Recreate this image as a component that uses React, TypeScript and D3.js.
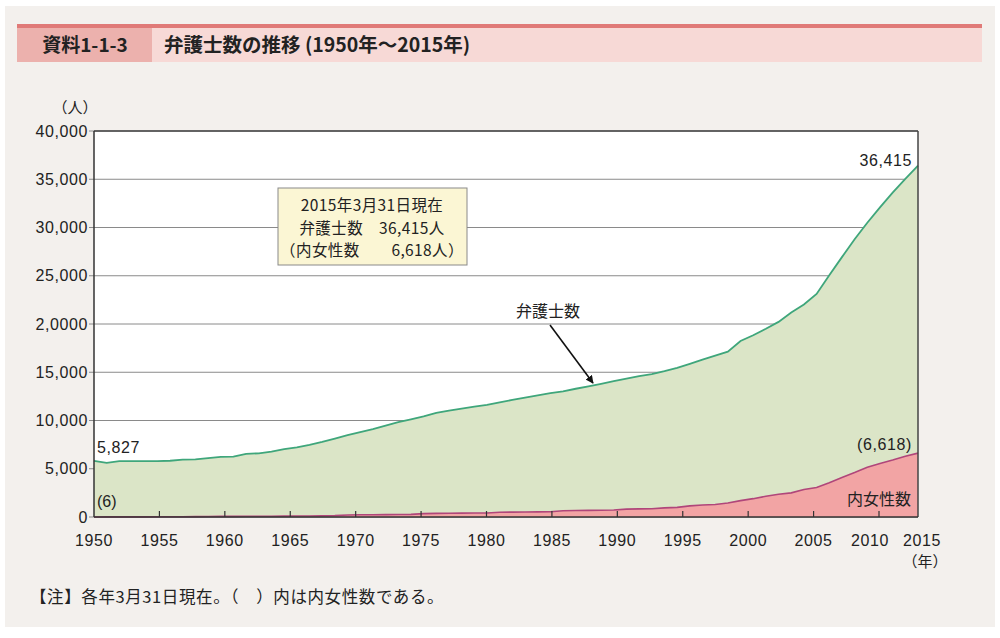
import * as d3 from "d3";

// 弁護士数の推移 (1950-2015), 各年3月31日現在
const years = [
  1950, 1951, 1952, 1953, 1954, 1955, 1956, 1957, 1958, 1959,
  1960, 1961, 1962, 1963, 1964, 1965, 1966, 1967, 1968, 1969,
  1970, 1971, 1972, 1973, 1974, 1975, 1976, 1977, 1978, 1979,
  1980, 1981, 1982, 1983, 1984, 1985, 1986, 1987, 1988, 1989,
  1990, 1991, 1992, 1993, 1994, 1995, 1996, 1997, 1998, 1999,
  2000, 2001, 2002, 2003, 2004, 2005, 2006, 2007, 2008, 2009,
  2010, 2011, 2012, 2013, 2014, 2015,
];

const lawyers = [
  5827, 5600, 5780, 5800, 5800, 5800, 5830, 5950, 5970, 6100,
  6240, 6260, 6550, 6600, 6780, 7040, 7220, 7470, 7780, 8130,
  8480, 8800, 9110, 9480, 9830, 10120, 10430, 10790, 11030, 11240,
  11440, 11620, 11890, 12130, 12380, 12600, 12830, 13010, 13290, 13540,
  13800, 14080, 14330, 14600, 14810, 15110, 15460, 15870, 16310, 16730,
  17130, 18240, 18840, 19510, 20220, 21190, 22020, 23120, 25040, 26930,
  28790, 30490, 32090, 33620, 35050, 36415,
];

const women = [
  6, 10, 12, 15, 18, 20, 25, 30, 40, 50,
  60, 65, 70, 75, 80, 90, 100, 110, 120, 140,
  210, 230, 240, 250, 260, 270, 350, 380, 390, 400,
  410, 420, 500, 510, 520, 530, 540, 650, 680, 690,
  700, 720, 820, 840, 860, 950, 1000, 1150, 1250, 1300,
  1450, 1700, 1900, 2150, 2350, 2500, 2850, 3050, 3550, 4100,
  4600, 5150, 5550, 5900, 6300, 6618,
];

const yTicks = [0, 5000, 10000, 15000, 20000, 25000, 30000, 35000, 40000];
const yTickLabels = ["0", "5,000", "10,000", "15,000", "2,0000", "25,000", "30,000", "35,000", "40,000"];
const xTicks = [1950, 1955, 1960, 1965, 1970, 1975, 1980, 1985, 1990, 1995, 2000, 2005, 2010, 2015];

const infoLines = ["2015年3月31日現在", "弁護士数　36,415人", "（内女性数　　6,618人）"];

const numFont = "'Liberation Sans', Arial, sans-serif";
const jpFont = "'Noto Sans CJK JP', 'Noto Sans', sans-serif";

const left = 94, right = 918, top = 131, bottom = 517;

export default function App() {
  const x = d3.scaleLinear().domain([1950, 2015]).range([left, right]);
  // tick labels sit on their own spacing, 2015 squeezed onto the right edge
  const xTick = d3.scaleLinear().domain([1950, 2010, 2015]).range([left, 879, right]);
  const y = d3.scaleLinear().domain([0, 40000]).range([bottom, top]);

  const rows = years.map((yr, i) => ({ yr, total: lawyers[i], women: women[i] }));

  const totalArea = d3.area<typeof rows[0]>().x(d => x(d.yr)).y0(y(0)).y1(d => y(d.total));
  const totalLine = d3.line<typeof rows[0]>().x(d => x(d.yr)).y(d => y(d.total));
  const womenArea = d3.area<typeof rows[0]>().x(d => x(d.yr)).y0(y(0)).y1(d => y(d.women));
  const womenLine = d3.line<typeof rows[0]>().x(d => x(d.yr)).y(d => y(d.women));

  const last = rows[rows.length - 1];
  const first = rows[0];

  return (
    <svg width={1000} height={638} style={{ position: "absolute", left: 0, top: 0 }}>
      <rect x={0} y={0} width={1000} height={638} fill="#ffffff" />
      <rect x={5} y={6} width={990} height={621} fill="#f3f0ed" />

      {/* header */}
      <rect x={17} y={24} width={965} height={4} fill="#e07a78" />
      <rect x={152} y={28} width={830} height={34} fill="#f7d9d6" />
      <rect x={17} y={28} width={135} height={34} fill="#ecb1ad" />
      <text x={85} y={52} textAnchor="middle" fontFamily={jpFont} fontSize={19} fontWeight="bold" fill="#222">資料1-1-3</text>
      <text x={164} y={52} fontFamily={jpFont} fontSize={19.5} fontWeight="bold" fill="#222">弁護士数の推移 (1950年〜2015年)</text>

      {/* plot background and grid */}
      <rect x={left} y={top} width={right - left} height={bottom - top} fill="#ffffff" />
      {yTicks.map((t, i) => (
        <g key={t}>
          <line x1={left - 5} x2={right} y1={y(t)} y2={y(t)} stroke="#8a8a8a" strokeWidth={1} />
          <text x={88} y={y(t) + 5.5} textAnchor="end" fontFamily={numFont} fontSize={16} letterSpacing={0.6} fill="#222">
            {yTickLabels[i]}
          </text>
        </g>
      ))}

      {/* areas */}
      <path d={totalArea(rows) ?? ""} fill="#dbe5c7" />
      <path d={totalLine(rows) ?? ""} fill="none" stroke="#3fa67b" strokeWidth={1.8} />
      <path d={womenArea(rows) ?? ""} fill="#f2a4a4" />
      <path d={womenLine(rows) ?? ""} fill="none" stroke="#b0467a" strokeWidth={1.6} />

      {/* frame */}
      <line x1={left} x2={right} y1={top} y2={top} stroke="#444" strokeWidth={1.3} />
      <line x1={right} x2={right} y1={top} y2={bottom} stroke="#444" strokeWidth={1.5} />
      <line x1={left} x2={left} y1={top} y2={bottom} stroke="#333" strokeWidth={1.5} />
      <line x1={left} x2={right} y1={bottom} y2={bottom} stroke="#333" strokeWidth={1.5} />

      {/* x ticks */}
      {xTicks.map(t => {
        const dx = t === 2010 ? -9 : t === 2015 ? 4 : 0;
        return (
          <g key={t}>
            {t > 1950 && t < 2015 && (
              <line x1={xTick(t)} x2={xTick(t)} y1={bottom} y2={bottom - 6} stroke="#333" strokeWidth={1.2} />
            )}
            <text x={xTick(t) + dx} y={546} textAnchor="middle" fontFamily={numFont} fontSize={16} letterSpacing={0.6} fill="#222">
              {t}
            </text>
          </g>
        );
      })}
      <text x={925} y={567} textAnchor="middle" fontFamily={jpFont} fontSize={15} fill="#222">（年）</text>
      <text x={75} y={113} textAnchor="middle" fontFamily={jpFont} fontSize={15} fill="#222">（人）</text>

      {/* value labels */}
      <text x={97} y={453} fontFamily={numFont} fontSize={16} letterSpacing={0.6} fill="#222">
        {d3.format(",")(first.total)}
      </text>
      <text x={97} y={507} fontFamily={numFont} fontSize={16} fill="#222">({first.women})</text>
      <text x={912} y={166} textAnchor="end" fontFamily={numFont} fontSize={16} letterSpacing={0.6} fill="#222">
        {d3.format(",")(last.total)}
      </text>
      <text x={912} y={450} textAnchor="end" fontFamily={numFont} fontSize={16} letterSpacing={0.6} fill="#222">
        ({d3.format(",")(last.women)})
      </text>
      <text x={911} y={505} textAnchor="end" fontFamily={jpFont} fontSize={16} fill="#222">内女性数</text>

      {/* annotation arrow */}
      <text x={548} y={317} textAnchor="middle" fontFamily={jpFont} fontSize={16} fill="#222">弁護士数</text>
      <defs>
        <marker id="arrow" viewBox="0 0 10 10" refX={9} refY={5} markerWidth={5} markerHeight={5} orient="auto">
          <path d="M0,0 L10,5 L0,10 z" fill="#111" />
        </marker>
      </defs>
      <line x1={550} y1={325} x2={593} y2={383} stroke="#111" strokeWidth={1.6} markerEnd="url(#arrow)" />

      {/* info box */}
      <rect x={278} y={188} width={189} height={77} fill="#fbf6d4" stroke="#8a8a8a" strokeWidth={1} />
      {infoLines.map((s, i) => (
        <text key={i} x={372} y={211 + i * 22.5} textAnchor="middle" fontFamily={jpFont} fontSize={15.5} letterSpacing={0.4} fill="#222">
          {s}
        </text>
      ))}

      {/* note */}
      <text x={30} y={603} fontFamily={jpFont} fontSize={16.5} letterSpacing={0.6} fill="#222">【注】各年3月31日現在。（　）内は内女性数である。</text>
    </svg>
  );
}
